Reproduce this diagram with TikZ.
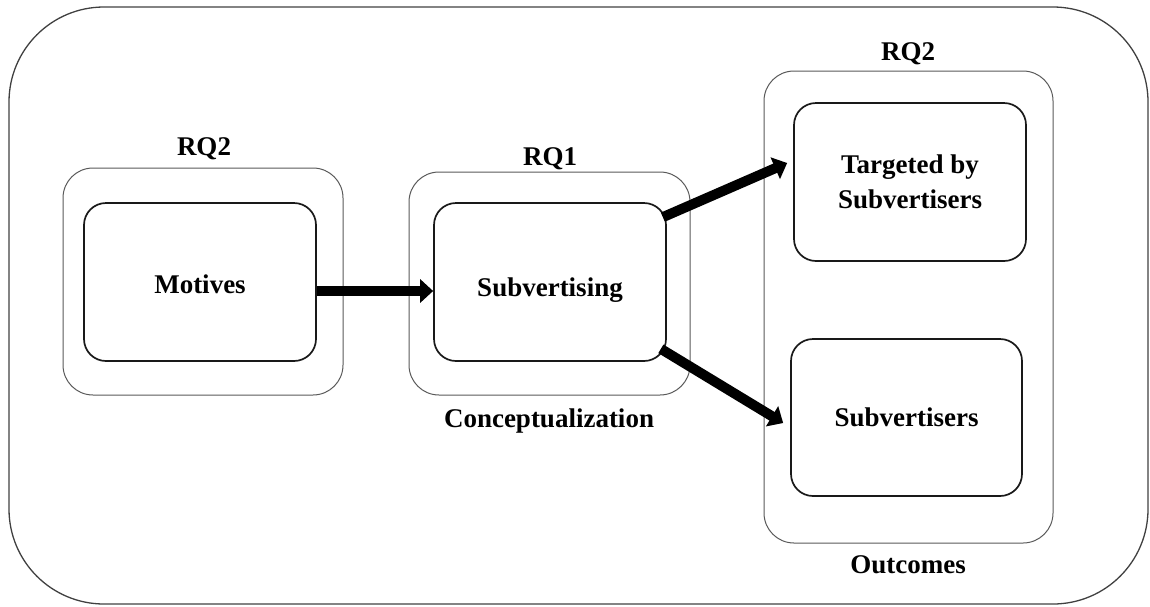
\documentclass[tikz,border=0pt]{standalone}
\usepackage{fontspec}
\setmainfont{Liberation Serif}
\usetikzlibrary{arrows.meta,calc}
\begin{document}
\begin{tikzpicture}[x=1pt,y=-1pt,
  frame/.style={draw=black!75,line width=1.3pt,rounded corners=95pt},
  groupbox/.style={draw=black!65,line width=1pt,rounded corners=30pt,inner sep=0pt},
  itembox/.style={draw=black!90,line width=1.7pt,rounded corners=22pt,inner sep=0pt,
    minimum width=232pt,minimum height=158pt,align=center,
    font=\fontsize{27}{35}\selectfont\bfseries},
  caption/.style={font=\fontsize{27}{32}\selectfont\bfseries,inner sep=0pt},
  flow/.style={line width=10pt,-{Triangle[length=13pt,width=23pt]}}]
\useasboundingbox (0,0) rectangle (1150,606);
% outer frame
\draw[frame] (9,7) rectangle (1148,604);
% group boxes
\node[groupbox,minimum width=280pt,minimum height=227pt] (gmot) at (203,281.5) {};
\node[groupbox,minimum width=281pt,minimum height=223pt] (gsub) at (549.5,283.5) {};
\node[groupbox,minimum width=289pt,minimum height=472pt] (gout) at (908.5,307) {};
% item boxes
\node[itembox] (mot) at (200,282) {\raisebox{-2pt}[\height][\depth]{Motives}};
\node[itembox] (sub) at (550,282) {\raisebox{-8pt}[\height][\depth]{Subvertising}};
\node[itembox] (tgt) at (910,182) {Targeted by\\Subvertisers};
\node[itembox,minimum width=231pt,minimum height=157pt] (sv) at (906.5,417.5) {Subvertisers};
% captions
\node[caption] (rqa) at (204,149) {RQ2};
\node[caption] (rqb) at (550,159) {RQ1};
\node[caption] (rqc) at (908,54) {RQ2};
\node[caption] (con) at (549,421) {Conceptualization};
\node[caption] (outc) at (908,565) {Outcomes};
% arrows
\draw[flow] ($(mot.east)+(0,9)$) -- ($(sub.west)+(0,9)$);
\draw[flow] ($(sub.north east)+(-4,15)$) -- ($(tgt.west)+(-6,-19)$);
\draw[flow] ($(sub.south east)+(-6,-13)$) -- ($(sv.west)+(-7,5.5)$);
\end{tikzpicture}
\end{document}
